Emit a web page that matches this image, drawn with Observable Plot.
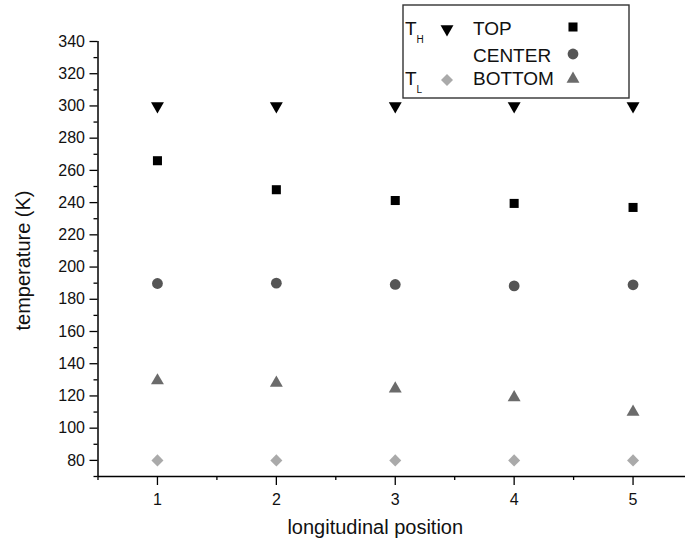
<!DOCTYPE html>
<html>
<head>
<meta charset="utf-8">
<script src="https://cdn.jsdelivr.net/npm/d3@7"></script>
<script src="https://cdn.jsdelivr.net/npm/@observablehq/plot@0.6"></script>
<style>
  html, body { margin: 0; padding: 0; background: #fff; overflow: hidden; }
  #wrap { position: relative; width: 685px; height: 543px; overflow: hidden; }
  #wrap svg { font-family: "Liberation Sans", Arial, sans-serif; }
  #legend { position: absolute; left: 0; top: 0; }
</style>
</head>
<body>
<div id="wrap"></div>
<script>
// Temperatures (K) at each longitudinal position
const positions = [1, 2, 3, 4, 5];
const tHigh   = [300, 300, 300, 300, 300];
const tTop    = [266, 248, 241.3, 239.5, 237];
const tCenter = [189.8, 190, 189.2, 188.3, 189];
const tBottom = [129.5, 128, 124.5, 119, 110];
const tLow    = [80, 80, 80, 80, 80];

const yMajor = d3.range(80, 341, 20);
const yMinor = d3.range(70, 340, 20);
const xMajor = [1, 2, 3, 4, 5];
const xMinor = [0.5, 1.5, 2.5, 3.5, 4.5, 5.5];

const series = [
  {name: "T_H",    values: tHigh,   symbol: "triangle", rotate: 180, fill: "#000000", r: 4.8},
  {name: "TOP",    values: tTop,    symbol: "square",   rotate: 0,   fill: "#000000", r: 5.1},
  {name: "CENTER", values: tCenter, symbol: "circle",   rotate: 0,   fill: "#555555", r: 5.4},
  {name: "BOTTOM", values: tBottom, symbol: "triangle", rotate: 0,   fill: "#6b6b6b", r: 4.8},
  {name: "T_L",    values: tLow,    symbol: "square",   rotate: 45,  fill: "#aaaaaa", r: 4.8}
];

const dotMarks = series.map(s =>
  Plot.dot(positions.map((p, i) => ({x: p, y: s.values[i]})), {
    x: "x", y: "y", symbol: s.symbol, rotate: s.rotate, r: s.r,
    fill: s.fill, stroke: "none"
  })
);

const chart = Plot.plot({
  width: 700,
  height: 543,
  marginLeft: 97.5,
  marginRight: 8,
  marginTop: 41,
  marginBottom: 67,
  style: {fontFamily: "'Liberation Sans', Arial, sans-serif", background: "#fff", maxWidth: "none"},
  x: {domain: [0.5, 5.5]},
  y: {domain: [70, 340]},
  marks: [
    Plot.axisY({ticks: yMajor, tickFormat: d3.format("d"), tickSize: 8, tickPadding: 5, fontSize: 16, label: null, stroke: "#000", strokeWidth: 1.3, fill: "#111"}),
    Plot.axisY({ticks: yMinor, tickSize: 4, text: null, label: null, stroke: "#000", strokeWidth: 1.3}),
    Plot.axisX({ticks: xMajor, tickFormat: d3.format("d"), tickSize: 9, tickPadding: 8, fontSize: 16, label: null, stroke: "#000", strokeWidth: 1.3, fill: "#111"}),
    Plot.axisX({ticks: xMinor, tickSize: 4, text: null, label: null, stroke: "#000", strokeWidth: 1.3}),
    Plot.ruleX([0.5], {stroke: "#000", strokeWidth: 1.5}),
    Plot.ruleY([70], {stroke: "#000", strokeWidth: 1.5}),
    Plot.text(["longitudinal position"], {frameAnchor: "bottom", textAnchor: "middle", dx: -20, dy: 57, fontSize: 20, fill: "#111"}),
    Plot.text(["temperature (K)"], {frameAnchor: "left", textAnchor: "middle", rotate: -90, dx: -74.5, dy: 1.5, fontSize: 20, fill: "#111"}),
    ...dotMarks
  ]
});
chart.style.maxWidth = "none";

const wrap = document.getElementById("wrap");
wrap.appendChild(chart);

// Legend box drawn on top of the plot
const legend = d3.select(wrap).append("svg")
  .attr("id", "legend")
  .attr("width", 685).attr("height", 543);

legend.append("rect")
  .attr("x", 403).attr("y", 5).attr("width", 226).attr("height", 93)
  .attr("fill", "#fff").attr("stroke", "#333").attr("stroke-width", 1.4);

const sym = {triangle: d3.symbolTriangle, square: d3.symbolSquare, circle: d3.symbolCircle};
function legendSymbol(s, cx, cy) {
  legend.append("path")
    .attr("d", d3.symbol(sym[s.symbol], Math.PI * s.r * s.r)())
    .attr("transform", `translate(${cx},${cy}) rotate(${s.rotate})`)
    .attr("fill", s.fill);
}
function legendText(str, x, y, size) {
  return legend.append("text").attr("x", x).attr("y", y)
    .attr("font-size", size).attr("fill", "#111").text(str);
}

// subscripted T labels
legendText("T", 405, 35, 19);
legendText("H", 416.5, 42.7, 10);
legendText("T", 405, 85, 19);
legendText("L", 416.5, 93.3, 10);

legendText("TOP", 473, 35, 19);
legendText("CENTER", 473, 61.7, 19);
legendText("BOTTOM", 473, 85, 19);

legendSymbol(series[0], 447, 29);
legendSymbol(series[4], 447, 80);
legendSymbol(series[1], 573, 27);
legendSymbol(series[2], 573, 54);
legendSymbol(series[3], 573, 79);
</script>
</body>
</html>
